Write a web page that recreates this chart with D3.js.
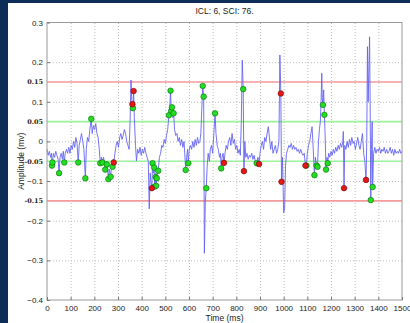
<!DOCTYPE html>
<html>
<head>
<meta charset="utf-8">
<script src="https://cdn.jsdelivr.net/npm/d3@7/dist/d3.min.js"></script>
<style>
  body { margin: 0; background: #fff; }
  svg { display: block; }
</style>
</head>
<body>
<svg id="chart" width="410" height="323"></svg>
<script>
const title = 'ICL: 6, SCI: 76.';
const xLabel = 'Time (ms)';
const yLabel = 'Amplitude (mv)';
const xTicks = [0, 100, 200, 300, 400, 500, 600, 700, 800, 900, 1000, 1100, 1200, 1300, 1400, 1500];
const yTicks = [-0.4, -0.3, -0.2, -0.1, 0, 0.1, 0.2, 0.3];
const redLimits = [0.15, -0.15];
const greenLimits = [0.05, -0.05];
const limitLabels = ['0.15', '0.05', '-0.05', '-0.15'];

// signal
const timeMs = [0,5,10,15,19,21,23,27,32,37,42,47,51,55,60,65,69,73,77,82,87,92,97,102,107,112,117,122,127,132,136,141,146,151,156,162,166,171,176,181,187,191,196,201,206,211,216,221,225,230,234,239,246,250,253,256,259,263,269,273,277,280,282,287,292,297,302,307,312,317,322,327,332,337,342,347,351,355,358,361,363,366,369,374,378,383,388,393,398,403,408,413,418,423,428,432,436,439,443,446,449,453,455,457,459,461,464,467,470,475,480,485,490,495,500,505,510,515,519,522,525,528,532,535,539,544,549,554,559,564,569,574,579,582,586,590,594,597,601,606,611,616,621,626,631,636,641,646,650,654,658,662,665,669,673,677,681,686,690,695,700,705,710,714,719,724,729,733,736,740,744,748,752,757,762,767,772,777,782,787,792,797,802,807,812,817,821,825,829,832,836,840,845,850,855,860,865,870,875,880,886,891,896,900,905,910,915,920,925,930,935,940,945,950,955,960,965,970,975,980,984,988,991,995,1000,1004,1008,1012,1017,1022,1027,1032,1037,1042,1047,1052,1057,1062,1067,1072,1077,1082,1087,1092,1096,1100,1105,1110,1115,1120,1125,1130,1134,1139,1143,1147,1151,1155,1158,1161,1163,1166,1169,1172,1175,1179,1183,1186,1190,1195,1200,1205,1210,1215,1220,1225,1230,1235,1240,1245,1250,1252,1255,1258,1263,1268,1273,1278,1283,1288,1293,1298,1303,1308,1313,1318,1323,1328,1333,1338,1343,1348,1351,1354,1357,1360,1363,1366,1368,1371,1374,1376,1380,1385,1390,1395,1400,1405,1410,1415,1420,1425,1430,1435,1440,1445,1450,1455,1460,1465,1470,1475,1480,1485,1490,1495,1500];
const amplitude = [-0.02,-0.035,-0.025,-0.04,-0.03,-0.061,-0.053,-0.03,-0.04,-0.025,-0.035,-0.045,-0.08,-0.04,-0.03,-0.045,-0.025,-0.053,-0.03,-0.02,-0.03,-0.015,-0.03,-0.01,-0.02,0,-0.015,0.01,-0.005,-0.053,-0.01,0.005,0.02,0,-0.02,-0.093,-0.02,0.01,0,0.03,0.057,0.02,0.04,0.03,0.045,0.02,0.01,-0.02,-0.055,-0.04,-0.053,-0.04,-0.071,-0.05,-0.058,-0.07,-0.095,-0.07,-0.089,-0.06,-0.064,-0.045,-0.053,-0.03,-0.01,0,-0.015,0.01,0.02,0.005,0.015,0.03,0.02,0,-0.01,-0.02,0.05,0.155,0.105,0.094,0.084,0.127,0.06,-0.01,-0.049,-0.02,-0.03,-0.015,-0.035,-0.02,-0.03,-0.015,-0.03,-0.04,-0.05,-0.17,-0.08,-0.1,-0.118,-0.055,-0.08,-0.066,-0.114,-0.08,-0.09,-0.112,-0.093,-0.07,-0.074,-0.04,-0.03,-0.01,-0.015,0.005,-0.005,0.015,0.03,0.066,0.09,0.128,0.077,0.086,0.06,0.071,0.03,0.015,0.02,0,0.01,-0.01,0.005,-0.015,0,-0.03,-0.072,-0.04,-0.02,-0.055,-0.02,-0.01,-0.02,0,-0.015,0.005,-0.01,0.01,-0.005,0,0.02,0.08,0.14,0.113,-0.282,-0.15,-0.118,-0.06,-0.03,-0.05,-0.02,-0.01,-0.03,0.02,0.071,0.02,-0.01,-0.02,-0.04,-0.03,-0.068,-0.04,-0.03,-0.054,-0.03,-0.01,-0.02,0,0.01,-0.01,0.02,-0.005,0.005,-0.02,-0.01,-0.03,-0.02,-0.035,0.05,0.205,0.132,-0.075,0,-0.04,-0.03,-0.045,-0.035,-0.04,-0.03,-0.045,-0.035,-0.05,-0.055,-0.04,-0.057,-0.03,-0.01,0,-0.02,0.01,0,0.02,0.037,0.01,-0.02,0,-0.03,-0.02,-0.01,-0.03,-0.02,0,0.218,0.121,-0.102,-0.04,-0.18,-0.17,-0.06,-0.03,-0.02,-0.01,-0.015,-0.005,-0.02,-0.01,-0.02,-0.015,-0.025,-0.02,-0.03,-0.02,-0.03,-0.035,-0.03,-0.061,-0.061,-0.03,-0.01,0,0.02,0.037,-0.02,-0.085,-0.04,-0.061,-0.064,0,0.03,0.05,0.1,0.172,0.11,0.092,0.13,0.067,0.02,-0.071,-0.04,-0.055,-0.03,-0.04,-0.025,-0.035,-0.02,-0.03,-0.015,-0.025,-0.01,-0.02,-0.005,-0.015,0,0.025,-0.118,-0.01,-0.02,0,-0.015,0.005,-0.01,0.01,-0.005,0,-0.02,-0.005,0.01,-0.01,-0.02,0,0.02,-0.03,-0.05,-0.097,0,0.239,0.1,0.18,0.264,0.05,-0.148,-0.02,0.05,-0.115,-0.03,-0.015,-0.03,-0.02,-0.025,-0.015,-0.03,-0.02,-0.025,-0.015,-0.03,-0.02,-0.03,-0.025,-0.015,-0.03,-0.02,-0.035,-0.02,-0.03,-0.025,-0.03,-0.02,-0.03,-0.025];

// detected points
const greenT = [21,23,51,73,132,162,187,225,234,246,253,259,269,277,363,446,453,455,459,461,464,470,515,522,525,528,535,586,597,658,662,673,710,736,829,886,1096,1130,1139,1143,1166,1172,1179,1186,1368,1376];
const greenV = [-0.061,-0.053,-0.08,-0.053,-0.053,-0.093,0.057,-0.055,-0.053,-0.071,-0.058,-0.095,-0.089,-0.064,0.084,-0.055,-0.066,-0.114,-0.09,-0.112,-0.093,-0.074,0.066,0.128,0.077,0.086,0.071,-0.072,-0.055,0.14,0.113,-0.118,0.071,-0.068,0.132,-0.055,-0.061,-0.085,-0.061,-0.064,0.092,0.067,-0.071,-0.055,-0.148,-0.115];
const redT = [282,361,366,443,748,832,896,988,991,1092,1255,1348];
const redV = [-0.053,0.094,0.127,-0.118,-0.054,-0.075,-0.057,0.121,-0.102,-0.061,-0.118,-0.097];

const svg = d3.select('#chart');
const W = 410, H = 323;
const margin = { top: 22.5, right: 8, bottom: 23, left: 47 };
const iw = W - margin.left - margin.right;
const ih = H - margin.top - margin.bottom;
const font = 'Liberation Sans, Arial, sans-serif';

// dark frame on the left and top
svg.append('rect').attr('width', W).attr('height', H).attr('fill', '#0b2d58');
svg.append('rect').attr('x', 8).attr('y', 3).attr('width', W - 8).attr('height', H - 3).attr('fill', '#ffffff');

const x = d3.scaleLinear().domain([0, 1500]).range([margin.left, margin.left + iw]);
const y = d3.scaleLinear().domain([-0.4, 0.3]).range([margin.top + ih, margin.top]);

// grid
svg.append('g')
    .attr('transform', `translate(0,${margin.top + ih})`)
    .call(d3.axisBottom(x).tickValues(xTicks.slice(1, -1)).tickSize(-ih).tickFormat(''))
    .call(g => g.select('.domain').remove())
    .call(g => g.selectAll('line').attr('stroke', '#bdbdbd').attr('stroke-dasharray', '1,2'));
svg.append('g')
    .attr('transform', `translate(${margin.left},0)`)
    .call(d3.axisLeft(y).tickValues(yTicks.slice(1, -1)).tickSize(-iw).tickFormat(''))
    .call(g => g.select('.domain').remove())
    .call(g => g.selectAll('line').attr('stroke', '#bdbdbd').attr('stroke-dasharray', '1,2'));

// limit lines
svg.selectAll('.red-lim').data(redLimits).enter().append('line')
    .attr('x1', x(0)).attr('x2', x(1500))
    .attr('y1', d => y(d)).attr('y2', d => y(d))
    .attr('stroke', '#f59a9a').attr('stroke-width', 1.6);
svg.selectAll('.green-lim').data(greenLimits).enter().append('line')
    .attr('x1', x(0)).attr('x2', x(1500))
    .attr('y1', d => y(d)).attr('y2', d => y(d))
    .attr('stroke', '#9cf29c').attr('stroke-width', 1.6);

// signal
const sig = timeMs.map((t, i) => ({ t, v: amplitude[i] }));
const line = d3.line().x(d => x(d.t)).y(d => y(d.v));
svg.append('path')
    .datum(sig)
    .attr('fill', 'none')
    .attr('stroke', '#6464f4')
    .attr('stroke-width', 0.9)
    .attr('stroke-linejoin', 'round')
    .attr('d', line);

// markers
svg.selectAll('.gp').data(greenT).enter().append('circle')
    .attr('cx', d => x(d)).attr('cy', (d, i) => y(greenV[i])).attr('r', 2.8)
    .attr('fill', '#22dd22').attr('stroke', '#0a6a0a').attr('stroke-width', 0.6);
svg.selectAll('.rp').data(redT).enter().append('circle')
    .attr('cx', d => x(d)).attr('cy', (d, i) => y(redV[i])).attr('r', 2.8)
    .attr('fill', '#e81515').attr('stroke', '#6a0a0a').attr('stroke-width', 0.6);

// axes box
svg.append('rect')
    .attr('x', margin.left).attr('y', margin.top).attr('width', iw).attr('height', ih)
    .attr('fill', 'none').attr('stroke', '#9a9a9a').attr('stroke-width', 1);

const xAxis = svg.append('g')
    .attr('transform', `translate(0,${margin.top + ih})`)
    .call(d3.axisBottom(x).tickValues(xTicks).tickSize(-3).tickPadding(5).tickFormat(d3.format('d')));
const yAxis = svg.append('g')
    .attr('transform', `translate(${margin.left},0)`)
    .call(d3.axisLeft(y).tickValues(yTicks).tickSize(-3).tickPadding(4).tickFormat(d => d === 0 ? '0' : d3.format('.1f')(d)));
[xAxis, yAxis].forEach(a => {
    a.select('.domain').remove();
    a.selectAll('line').attr('stroke', '#777');
    a.selectAll('text').attr('font-family', font).attr('font-size', 8).attr('fill', '#222');
});

// bold labels of the limit lines
svg.selectAll('.lim-label').data(limitLabels).enter().append('text')
    .attr('x', margin.left - 4)
    .attr('y', d => y(+d) + 2.5)
    .attr('text-anchor', 'end')
    .attr('font-family', 'DejaVu Serif, serif')
    .attr('font-weight', 'bold')
    .attr('font-size', 6.5)
    .attr('fill', '#222')
    .text(d => d);

svg.append('text')
    .attr('x', (x(0) + x(1500)) / 2).attr('y', 14)
    .attr('text-anchor', 'middle')
    .attr('font-family', font).attr('font-size', 8.5).attr('fill', '#222')
    .text(title);
svg.append('text')
    .attr('x', (x(0) + x(1500)) / 2).attr('y', 321)
    .attr('text-anchor', 'middle')
    .attr('font-family', font).attr('font-size', 8.5).attr('fill', '#222')
    .text(xLabel);
svg.append('text')
    .attr('transform', `translate(24,${(y(0.3) + y(-0.4)) / 2}) rotate(-90)`)
    .attr('text-anchor', 'middle')
    .attr('font-family', font).attr('font-size', 8.5).attr('fill', '#222')
    .text(yLabel);
</script>
</body>
</html>
